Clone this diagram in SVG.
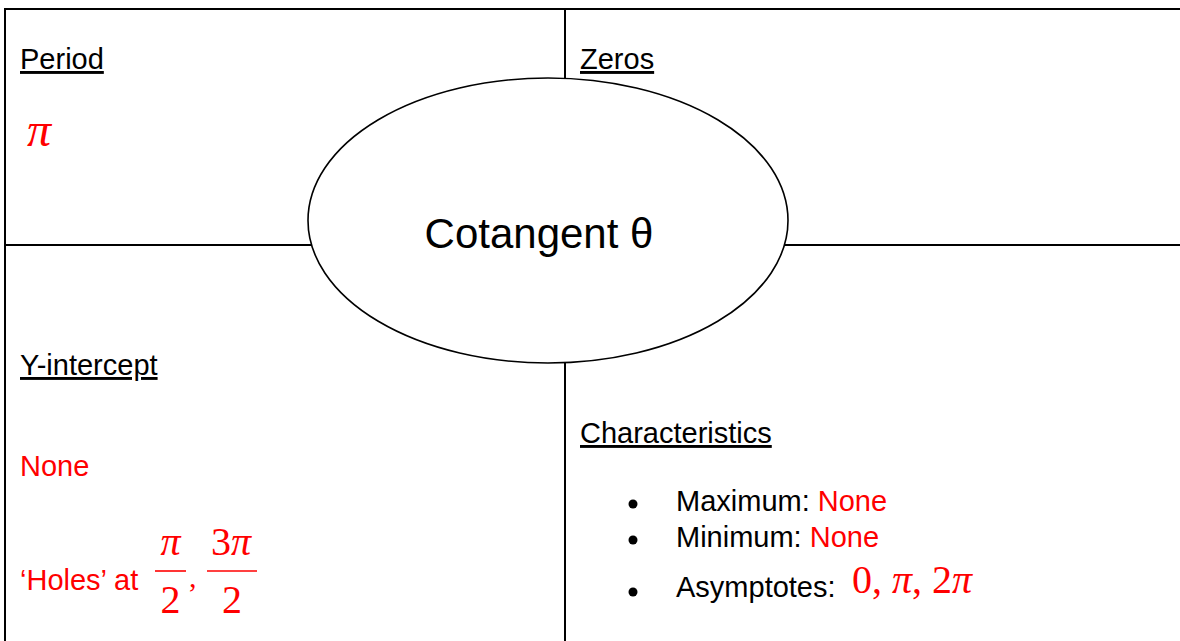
<svg xmlns="http://www.w3.org/2000/svg" width="1180" height="641" viewBox="0 0 1180 641">
<style>
.ln{stroke:#000;stroke-width:2;fill:none}
.h{font-family:"Liberation Sans",Arial,sans-serif;font-size:29px;fill:#000}
.r{fill:#ff0000}
.m{font-family:"Liberation Serif","Times New Roman",serif;fill:#ff0000}
.i{font-style:italic}
</style>
<rect width="1180" height="641" fill="#fff"/>
<g id="connectors">
<line class="ln" x1="5" y1="9" x2="1180" y2="9"/>
<line class="ln" x1="5" y1="8" x2="5" y2="641"/>
<line class="ln" x1="5" y1="245" x2="1180" y2="245"/>
<line class="ln" x1="565" y1="9" x2="565" y2="641"/>
</g>
<g id="center">
<ellipse cx="548" cy="220.5" rx="240" ry="142.5" fill="#fff" stroke="#000" stroke-width="1.6"/>
<text x="539" y="248" text-anchor="middle" font-family="Liberation Sans,Arial,sans-serif" font-size="42">Cotangent θ</text>
</g>
<g id="period">
<text class="h" x="20" y="69" text-decoration="underline">Period</text>
<text class="m i" x="27" y="146" font-size="48">π</text>
</g>
<g id="zeros">
<text class="h" x="580" y="69" text-decoration="underline">Zeros</text>
</g>
<g id="yintercept">
<text class="h" x="20" y="375" text-decoration="underline">Y-intercept</text>
<text class="h r" x="20" y="476">None</text>
<text class="h r" x="20" y="590">‘Holes’ at</text>
<text class="m i" x="170.5" y="555" font-size="40" text-anchor="middle">π</text>
<line x1="155" y1="571" x2="186" y2="571" stroke="#ff0000" stroke-width="1.6"/>
<text class="m" x="170.5" y="613" font-size="40" text-anchor="middle">2</text>
<text class="m" x="189" y="587" font-size="30">,</text>
<text class="m" x="231" y="555" font-size="40" text-anchor="middle">3<tspan class="i">π</tspan></text>
<line x1="207" y1="571" x2="257" y2="571" stroke="#ff0000" stroke-width="1.6"/>
<text class="m" x="232" y="613" font-size="40" text-anchor="middle">2</text>
</g>
<g id="characteristics">
<text class="h" x="580" y="443" text-decoration="underline">Characteristics</text>
<circle cx="633" cy="504" r="4.5"/>
<circle cx="633" cy="540" r="4.5"/>
<circle cx="633" cy="592" r="4.5"/>
<text class="h" x="676" y="511">Maximum: <tspan class="r">None</tspan></text>
<text class="h" x="676" y="547">Minimum: <tspan class="r">None</tspan></text>
<text class="h" x="676" y="597">Asymptotes:</text>
<text class="m" x="852" y="593" font-size="40">0, <tspan class="i">π</tspan>, 2<tspan class="i">π</tspan></text>
</g>
</svg>
